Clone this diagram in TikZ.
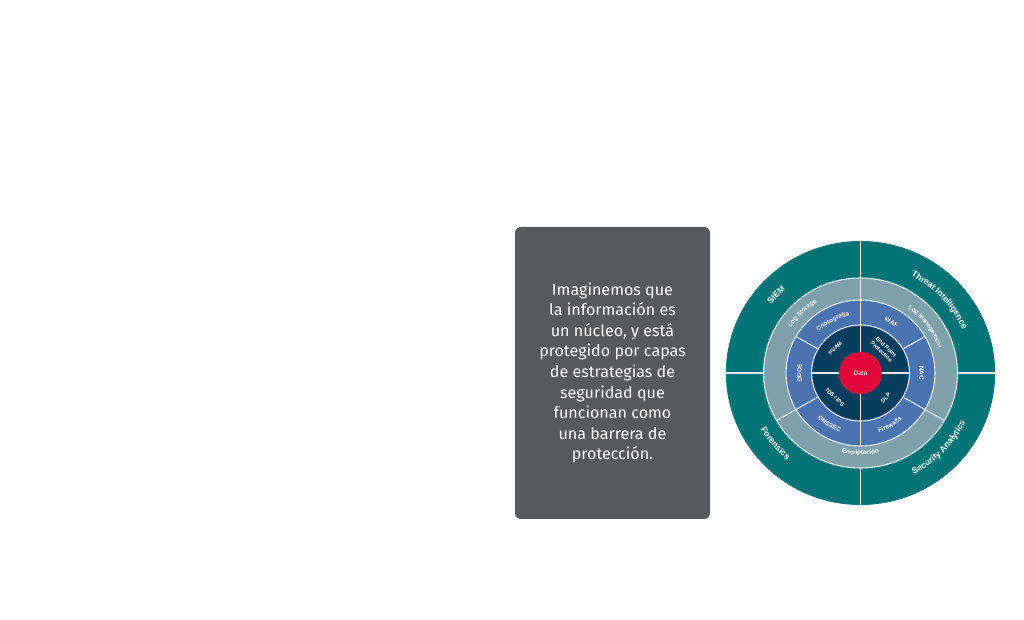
\documentclass[tikz,border=0pt]{standalone}
\usepackage{fontspec}
\setmainfont{Fira Sans}
\newfontfamily\lab{Liberation Sans}
\usetikzlibrary{decorations.text}
\definecolor{cteal}{HTML}{007377}
\definecolor{cgray}{HTML}{7FA1AC}
\definecolor{cblue}{HTML}{4A73B0}
\definecolor{cnavy}{HTML}{063E5F}
\definecolor{cred}{HTML}{E3063A}
\definecolor{cbox}{HTML}{58595B}
\definecolor{csep}{HTML}{E2EAEE}
\newcommand\outerf{\lab\bfseries\fontsize{8.6}{9}\selectfont}
\newcommand\midf{\lab\bfseries\fontsize{6.2}{7}\selectfont}
% clockwise text (tops outward): angle, baseline radius, half span, font, text
\newcommand\cwtext[5]{\path[decorate,decoration={text along path,text color=white,text align=center,text={|#4|#5}}] (#1+#3:#2) arc[start angle=#1+#3,end angle=#1-#3,radius=#2];}
% counterclockwise text (tops inward)
\newcommand\ccwtext[5]{\path[decorate,decoration={text along path,text color=white,text align=center,text={|#4|#5}}] (#1-#3:#2) arc[start angle=#1-#3,end angle=#1+#3,radius=#2];}
\tikzset{
  sep/.style={draw=csep,line width=1.1pt},
  navytxt/.style={text=white,font=\lab\bfseries\fontsize{5.6}{6.7}\selectfont,inner sep=0pt,align=center},
  msgbox/.style={fill=cbox,rounded corners=6pt,minimum width=195pt,minimum height=292pt,text=white,align=center,font=\fontsize{16.1}{20.6}\selectfont}
}
\begin{document}
\begin{tikzpicture}[x=1pt,y=1pt]
\useasboundingbox (0,0) rectangle (1024,620);
\fill[white] (0,0) rectangle (1024,620);
\node[msgbox] (msg) at (612.5,247) {Imaginemos que\\la información es\\un núcleo, y está\\protegido por capas\\de estrategias de\\seguridad que\\funcionan como\\una barrera de\\protección.};
\begin{scope}[shift={(860.5,247)},xscale=1.02]
\fill[cteal] (0,0) circle[radius=132];
\fill[cgray] (0,0) circle[radius=95];
\fill[cblue] (0,0) circle[radius=73];
\fill[cnavy] (0,0) circle[radius=48];
\draw[sep] (0,0) circle[radius=95] (0,0) circle[radius=73] (0,0) circle[radius=48];
\foreach \a in {0,180} \draw[sep] (\a:21) -- (\a:48) (\a:95) -- (\a:132);
\draw[sep] (90:21) -- (90:132);
\draw[sep] (270:21) -- (270:73) (270:95) -- (270:132);
\foreach \a in {210,330} \draw[sep] (\a:48) -- (\a:95);
\foreach \a in {30,150} \draw[sep] (\a:48) -- (\a:73);
\fill[cred] (0,0) circle[radius=21];
\node[text=white,font=\lab\fontsize{6.4}{7}\selectfont] (data) at (0,0) {Data};
% outer ring
\cwtext{137}{111}{40}{\outerf}{SIEM}
\cwtext{43}{109}{42}{\outerf}{Threat Intelligence}
\ccwtext{220}{113}{40}{\outerf}{Forensics}
\ccwtext{316}{114}{42}{\outerf}{Security Analytics}
% gray ring
\cwtext{134}{82}{35}{\midf}{Log Storage}
\cwtext{36}{80}{38}{\midf}{Log Management}
\ccwtext{270}{82}{35}{\midf}{Encriptación}
% blue ring
\cwtext{118}{58}{30}{\midf}{Criptografía}
\cwtext{59}{57}{28}{\midf}{WAF}
\cwtext{0}{58}{28}{\midf}{NAC}
\cwtext{180}{58}{28}{\midf}{DDOS}
\ccwtext{239}{62}{30}{\midf}{DNSSEC}
\ccwtext{299}{62}{30}{\midf}{Firewalls}
% navy ring
\node[navytxt,rotate=45] (puam) at (135:35) {PUAM};
\node[navytxt,rotate=-44] (epp) at (46:33) {End Point\\Protection};
\node[navytxt,rotate=-45] (ids) at (225:35) {IDS / IPS};
\node[navytxt,rotate=45] (dlp) at (315:35) {DLP};
\end{scope}
\end{tikzpicture}
\end{document}
